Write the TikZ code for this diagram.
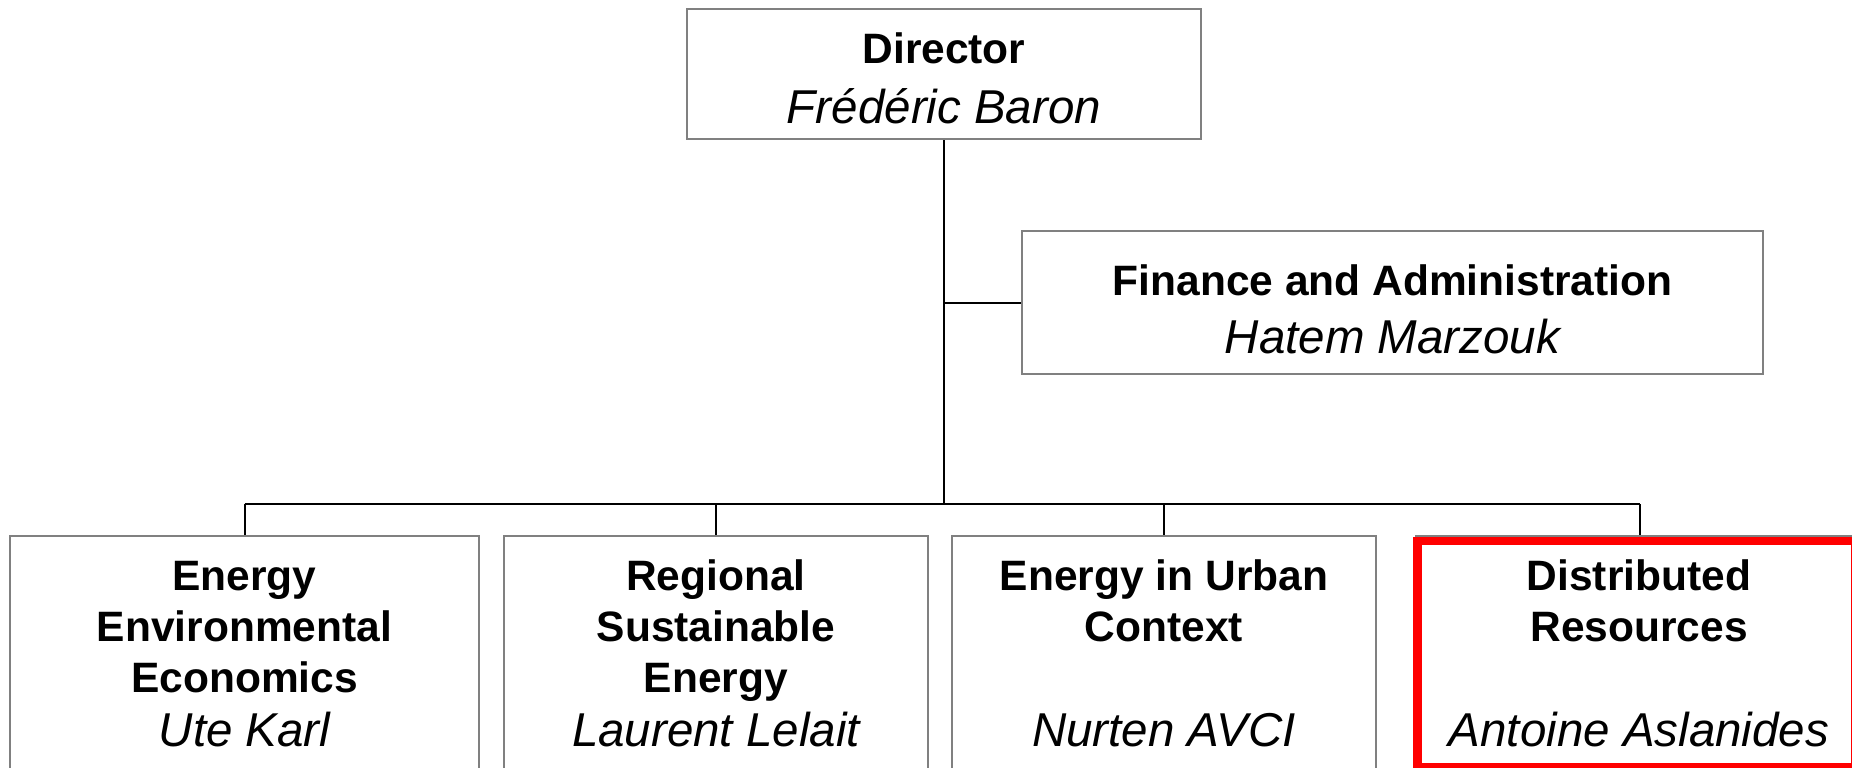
\documentclass[tikz,border=0pt]{standalone}
\usepackage{fontspec}
\setmainfont{Liberation Sans}
\definecolor{boxgrey}{RGB}{128,128,128}
\definecolor{hired}{RGB}{255,0,0}
\tikzset{
  box/.style={draw=boxgrey, line width=1pt, fill=white, inner sep=0pt, rectangle},
  conn/.style={draw=black, line width=1pt},
  ttl/.style={anchor=base, inner sep=0pt, font=\fontsize{21.25pt}{25.5pt}\selectfont\bfseries},
  nm/.style={anchor=base, inner sep=0pt, font=\fontsize{23.75pt}{28.5pt}\selectfont\itshape},
  hilite/.style={draw=hired, line width=4.25pt},
}
\begin{document}
\begin{tikzpicture}[x=0.5pt, y=-0.5pt]
\useasboundingbox (0,0) rectangle (1852,767);
\clip (0,0) rectangle (1852,767);
\fill[white] (0,0) rectangle (1852,767);

% boxes
\node[box, minimum width=257pt, minimum height=65pt] (dir) at (944,74) {};
\node[box, minimum width=370.5pt, minimum height=71.5pt] (fin) at (1392.5,302.5) {};
\node[box, minimum width=234.5pt, minimum height=130pt, anchor=north] (b1) at (244.5,535) {};
\node[box, minimum width=212pt, minimum height=130pt, anchor=north] (b2) at (716,535) {};
\node[box, minimum width=212pt, minimum height=130pt, anchor=north] (b3) at (1164,535) {};
\node[box, minimum width=224pt, minimum height=130pt, anchor=north] (b4) at (1640,535) {};

% connectors
\coordinate (bus) at (944,504);
\draw[conn] (dir.south) -- (bus);
\draw[conn] (dir.south |- fin.west) -- (fin.west);
\draw[conn] (b1.north |- bus) -- (b4.north |- bus);
\draw[conn] (b1.north |- bus) -- (b1.north);
\draw[conn] (b2.north |- bus) -- (b2.north);
\draw[conn] (b3.north |- bus) -- (b3.north);
\draw[conn] (b4.north |- bus) -- (b4.north);

% highlight
\draw[hilite] (1417.5,541) rectangle (1855,767.5);

% texts
\node[ttl] (dirT) at (944,63) {Director};
\node[nm] (dirN) at (944,123) {Frédéric Baron};
\node[ttl] (finT) at (1392.5,295) {Finance and Administration};
\node[nm] (finN) at (1392.5,353) {Hatem Marzouk};

\node[ttl] (b1a) at (244.5,590) {Energy};
\node[ttl] (b1b) at (244.5,641) {Environmental};
\node[ttl] (b1c) at (244.5,692) {Economics};
\node[nm] (b1n) at (244.5,746) {Ute Karl};

\node[ttl] (b2a) at (716,590) {Regional};
\node[ttl] (b2b) at (716,641) {Sustainable};
\node[ttl] (b2c) at (716,692) {Energy};
\node[nm] (b2n) at (716,746) {Laurent Lelait};

\node[ttl] (b3a) at (1164,590) {Energy in Urban};
\node[ttl] (b3b) at (1164,641) {Context};
\node[nm] (b3n) at (1164,746) {Nurten AVCI};

\node[ttl] (b4a) at (1639,590) {Distributed};
\node[ttl] (b4b) at (1639,641) {Resources};
\node[nm] (b4n) at (1639,746) {Antoine Aslanides};
\end{tikzpicture}
\end{document}
